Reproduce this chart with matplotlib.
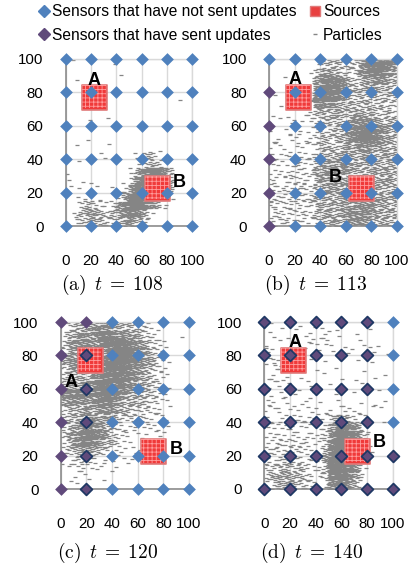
import numpy as np
import matplotlib
matplotlib.use("Agg")
import matplotlib.pyplot as plt
from matplotlib.lines import Line2D

plt.rcParams["font.family"] = ["Liberation Sans", "DejaVu Sans"]
plt.rcParams["mathtext.fontset"] = "cm"
plt.rcParams["hatch.linewidth"] = 0.6

# Sensor grid (x and y positions)
sensor_x = [0, 20, 40, 60, 80, 100]
sensor_y = [0, 20, 40, 60, 80, 100]

# Sensor state per snapshot, rows from y=100 down to y=0, columns x=0..100
# 0 = not sent, 1 = sent, 2 = sent (outlined)
state_a = ["000000", "000000", "000000", "000000", "000000", "000000"]
state_b = ["000000", "100000", "100000", "100000", "100000", "100000"]
state_c = ["110000", "120000", "120000", "120000", "120000", "120000"]
state_d = ["222220", "222220", "222220", "222220", "222222", "222222"]

# Source locations
source_x = [22.5, 72]
source_y = [77.5, 23]
source_names = ["A", "B"]

# Label anchor positions (x, y) for A and B in each snapshot
label_a = [(22.4, 87.4), (89.5, 26.3)]
label_b = [(20.3, 88.0), (51.6, 29.3)]
label_c = [(7.8, 64.0), (89.8, 24.0)]
label_d = [(24.0, 87.8), (89.9, 28.0)]

times = [108, 113, 120, 140]
panel_tags = ["a", "b", "c", "d"]

# Particle density levels on a 5x5 grid of cells (rows y=100..0, cols x=0..100)
particles_a = [
    "01000001000000000000",
    "00000000100000000000",
    "01000000000000000000",
    "00000000000000000000",
    "00000000000000000010",
    "00000000000000000000",
    "00000000000000000000",
    "10010010000000000000",
    "00000000000000000000",
    "00010000000000000000",
    "01000010000000000000",
    "00000110000234200000",
    "00100000000134310000",
    "10000000002578864000",
    "10101000013799974100",
    "10100101126899984100",
    "01010100258999862000",
    "00343223578876420000",
    "02455434567642000000",
    "02344433455420000000",
]
particles_b = [
    "00000002344333677876",
    "00000013554333678765",
    "00100005777643456654",
    "00000006888644455443",
    "10000017887543444343",
    "01000026665444343433",
    "10100124445445544343",
    "11020123344356665444",
    "20112023334467787654",
    "12021123434467887654",
    "21102213443455665544",
    "12122123444544554454",
    "21213224555654454444",
    "22132325566554445454",
    "31223224565556544554",
    "22323324455455455444",
    "33232334544554554545",
    "32323234454555665544",
    "23232324454566665454",
    "32323223445466654443",
]
particles_c = [
    "03445566544332100000",
    "24565677665543210010",
    "35666578887654321000",
    "35500557898765321000",
    "46600567898765421000",
    "35500678887654321000",
    "34444678877654321000",
    "45566788776554321000",
    "67776788765544321000",
    "56665677654443321000",
    "34455566544333221000",
    "34456555433332211000",
    "34567654322222111000",
    "35678764322111111000",
    "24677654321111100000",
    "23455432211111000000",
    "12333221111100000000",
    "01222111100000000000",
    "01111010000000000000",
    "00100000000000000000",
]
particles_d = [
    "01101101010100001000",
    "11010011121100100000",
    "10101012121010110100",
    "21000010101011001101",
    "12100101010000101000",
    "12210010100100010000",
    "12110100010010100110",
    "21210011001000010000",
    "11111101000100100100",
    "21110111100100010110",
    "21211111111122101010",
    "21212222123543210010",
    "22222221125786520000",
    "22222222236898631000",
    "22323231137999741000",
    "23232321147999731000",
    "32342312258998620000",
    "33443432248987510000",
    "34554432237886420000",
    "23454332126775310000",
]
level_counts = [0, 1, 2, 4, 7, 11, 16, 23, 32, 44]

BLUE = "#4f81bd"
PURPLE = "#604a7b"
OUTLINE = "#1f3864"
GRAY = "#858585"
GRID = "#d9d9d9"


def particle_positions(density, cell=5.0):
    """Spread each cell's particle count evenly over that cell."""
    g1, g2 = 0.7548776662466927, 0.5698402909980532
    xs, ys = [], []
    nrows = len(density)
    for r, row in enumerate(density):
        y0 = (nrows - 1 - r) * cell
        for c, ch in enumerate(row):
            n = level_counts[int(ch)]
            if n == 0:
                continue
            idx = r * len(row) + c
            k = np.arange(n)
            u = (0.5 + idx * 0.6180339887 + k * g1) % 1.0
            v = (0.5 + idx * 0.4142135624 + k * g2) % 1.0
            xs.append(c * cell + cell * u)
            ys.append(y0 + cell * v)
    return np.concatenate(xs), np.concatenate(ys)


fig = plt.figure(figsize=(4.14, 5.68), dpi=100)
W, H = 414.0, 568.0

# axes boxes in pixels: left, top, right, bottom
boxes = [(65.7, 59, 192.3, 226), (269, 59, 397, 226),
         (60.7, 322, 189, 489.3), (264.3, 322, 392.7, 489)]
caption_y = [285, 285, 553, 553]

densities = [particles_a, particles_b, particles_c, particles_d]
states = [state_a, state_b, state_c, state_d]
labels = [label_a, label_b, label_c, label_d]

for i in range(4):
    l, t, r, b = boxes[i]
    ax = fig.add_axes([l / W, 1 - b / H, (r - l) / W, (b - t) / H])
    ax.set_xlim(0, 100)
    ax.set_ylim(0, 100)
    ax.set_xticks(sensor_x)
    ax.set_yticks(sensor_y)
    ax.grid(True, color=GRID, lw=1.0)
    ax.set_axisbelow(True)
    for side in ["top", "right"]:
        ax.spines[side].set_color(GRID)
        ax.spines[side].set_linewidth(1.0)
    for side in ["left", "bottom"]:
        ax.spines[side].set_color("#8c8c8c")
        ax.spines[side].set_linewidth(1.2)
    ax.tick_params(length=0, labelsize=10.8, colors="black")
    ax.tick_params(axis="y", pad=16)
    ax.tick_params(axis="x", pad=20)

    px, py = particle_positions(densities[i])
    ax.plot(px, py, ls="none", marker="_", ms=3.0, mew=0.9, color=GRAY, zorder=2)

    ax.scatter(source_x, source_y, marker="s", s=18 ** 2, facecolor="#f03a3a",
               edgecolor="#e07a7a", lw=1.2, zorder=3, clip_on=False)
    ax.scatter(source_x, source_y, marker="s", s=17 ** 2, facecolor="none",
               edgecolor="#ff9c9c", lw=0, hatch="++++", zorder=3.1, clip_on=False)

    gx, gy, gs = [], [], []
    for r_i, row in enumerate(states[i]):
        for c_i, ch in enumerate(row):
            gx.append(sensor_x[c_i])
            gy.append(sensor_y[len(sensor_y) - 1 - r_i])
            gs.append(int(ch))
    gx, gy, gs = np.array(gx), np.array(gy), np.array(gs)
    m = gs == 0
    ax.scatter(gx[m], gy[m], marker="D", s=42, color=BLUE, lw=0, zorder=4, clip_on=False)
    m = gs == 1
    ax.scatter(gx[m], gy[m], marker="D", s=42, color=PURPLE, lw=0, zorder=4, clip_on=False)
    m = gs == 2
    ax.scatter(gx[m], gy[m], marker="D", s=36, facecolor=PURPLE, edgecolor=OUTLINE,
               lw=1.3, zorder=4, clip_on=False)

    for name, (lx, ly) in zip(source_names, labels[i]):
        ax.text(lx, ly, name, fontsize=13, fontweight="bold", ha="center",
                va="center", zorder=5, clip_on=False)

    cx = (l + r) / 2 - 17
    fig.text(cx / W, 1 - caption_y[i] / H,
             "$\\mathrm{(%s)}\\enspace t\\;=\\;%d$" % (panel_tags[i], times[i]),
             fontsize=14, ha="center", va="center")

handles = [
    Line2D([], [], ls="none", marker="D", ms=6, color=BLUE),
    Line2D([], [], ls="none", marker="D", ms=6, color=PURPLE),
    Line2D([], [], ls="none", marker="s", ms=7, markerfacecolor="#e84040",
           markeredgecolor="#e07a7a"),
    Line2D([], [], ls="none", marker="_", ms=3.5, mew=1.0, color=GRAY),
]
names = ["Sensors that have not sent updates", "Sensors that have sent updates",
         "Sources", "Particles"]
fig.legend(handles, names, loc="upper left", bbox_to_anchor=(38 / W, 1 - 4 / H),
           ncol=2, frameon=False, fontsize=11.2, handlelength=0.8,
           handletextpad=0.1, columnspacing=0.8, labelspacing=0.55,
           borderpad=0, borderaxespad=0)

fig.savefig("out.png", dpi=100)
